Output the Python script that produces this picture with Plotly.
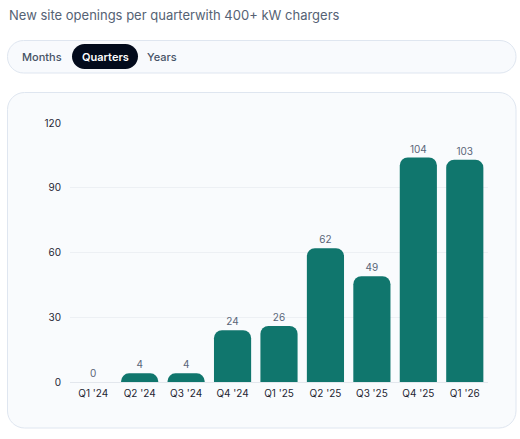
import plotly.graph_objects as go

quarters = ["Q1 '24", "Q2 '24", "Q3 '24", "Q4 '24", "Q1 '25", "Q2 '25", "Q3 '25", "Q4 '25", "Q1 '26"]
openings = [0, 4, 4, 24, 26, 62, 49, 104, 103]
y_ticks = [0, 30, 60, 90, 120]
tabs = ["Months", "Quarters", "Years"]
subtitle = "New site openings per quarterwith 400+ kW chargers"

W, H = 520, 439
PL, PR, PT, PB = 70, 488, 123, 382  # plot area in pixels
FONT = "Inter, 'Noto Sans', Arial, sans-serif"

def px_x(x):
    return (x - PL) / (PR - PL)

def px_y(y):
    return (PB - y) / (PB - PT)

def rounded_rect(x0, y0, x1, y1, r):
    X, Y = px_x, px_y
    k = 0.45
    return (
        f"M {X(x0+r)},{Y(y0)} L {X(x1-r)},{Y(y0)} "
        f"C {X(x1-r*k)},{Y(y0)} {X(x1)},{Y(y0+r*k)} {X(x1)},{Y(y0+r)} "
        f"L {X(x1)},{Y(y1-r)} "
        f"C {X(x1)},{Y(y1-r*k)} {X(x1-r*k)},{Y(y1)} {X(x1-r)},{Y(y1)} "
        f"L {X(x0+r)},{Y(y1)} "
        f"C {X(x0+r*k)},{Y(y1)} {X(x0)},{Y(y1-r*k)} {X(x0)},{Y(y1-r)} "
        f"L {X(x0)},{Y(y0+r)} "
        f"C {X(x0)},{Y(y0+r*k)} {X(x0+r*k)},{Y(y0)} {X(x0+r)},{Y(y0)} Z"
    )

fig = go.Figure()
fig.add_trace(go.Bar(
    x=quarters, y=openings,
    marker=dict(color="#10766d", cornerradius=8, line=dict(width=0)),
    text=[str(v) for v in openings], textposition="outside",
    textfont=dict(size=10, color="#5a6678", family=FONT),
    cliponaxis=False, hoverinfo="skip",
))

shapes = [
    dict(type="path", xref="paper", yref="paper", path=rounded_rect(7.5, 40.5, 516, 73, 16),
         fillcolor="#f8fafd", line=dict(color="#dfe6f0", width=1), layer="below"),
    dict(type="path", xref="paper", yref="paper", path=rounded_rect(72, 44, 138, 69, 12.5),
         fillcolor="#030b1c", line=dict(width=0), layer="below"),
    dict(type="path", xref="paper", yref="paper", path=rounded_rect(7.5, 92.5, 516, 428, 17),
         fillcolor="#f9fbfd", line=dict(color="#dfe6f0", width=1), layer="below"),
]

annotations = [
    dict(text=subtitle, x=px_x(7), y=px_y(15), xref="paper", yref="paper",
         xanchor="left", yanchor="middle", showarrow=False,
         font=dict(size=13, color="#556274", family=FONT)),
]
tab_centers = [42, 105, 162]
for t, cx in zip(tabs, tab_centers):
    active = t == "Quarters"
    annotations.append(dict(
        text=t, x=px_x(cx), y=px_y(57), xref="paper", yref="paper",
        xanchor="center", yanchor="middle", showarrow=False,
        font=dict(size=11, color="#ffffff" if active else "#465266", family=FONT,
                  weight=600 if active else 500),
    ))

fig.update_layout(
    width=W, height=H,
    margin=dict(l=PL, r=W - PR, t=PT, b=H - PB, pad=0),
    paper_bgcolor="#ffffff", plot_bgcolor="rgba(0,0,0,0)",
    showlegend=False, bargap=0.2,
    shapes=shapes, annotations=annotations,
    font=dict(family=FONT),
    xaxis=dict(showgrid=False, showline=False, ticks="", zeroline=False,
               tickfont=dict(size=10, color="#1f2633", family=FONT), ticklabelstandoff=4),
    yaxis=dict(range=[0, 120], tickvals=y_ticks, showgrid=True, gridcolor="#edf0f4",
               gridwidth=1, zeroline=True, zerolinecolor="#e3e7ed", zerolinewidth=1,
               showline=False, ticks="", tickfont=dict(size=10, color="#1f2633", family=FONT),
               ticklabelstandoff=8),
)

fig.write_html("out.html", config={"displayModeBar": False},
               post_script="document.body.style.margin='0';")
